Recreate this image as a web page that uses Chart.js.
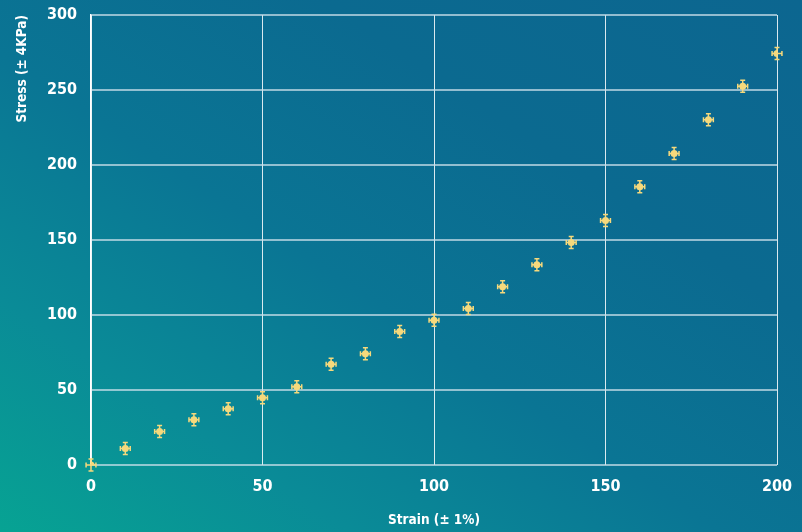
<!DOCTYPE html>
<html>
<head>
<meta charset="utf-8">
<script src="https://cdn.jsdelivr.net/npm/chart.js@4/dist/chart.umd.min.js"></script>
<style>
  html, body { margin: 0; padding: 0; }
  body {
    width: 802px; height: 532px; overflow: hidden;
    background: linear-gradient(to top right, #07a393 0%, #0a8b97 22%, #0a7594 45%, #0b6a90 70%, #0c6690 100%);
  }
  #wrap { position: relative; width: 802px; height: 532px; }
</style>
</head>
<body>
<div id="wrap"><canvas id="chart" width="802" height="532"></canvas></div>
<script>
// Measured strain (%) and stress (KPa)
const strain = [0, 10, 20, 30, 40, 50, 60, 70, 80, 90, 100, 110, 120, 130, 140, 150, 160, 170, 180, 190, 200];
const stress = [0, 11, 22.3, 30.1, 37.5, 44.8, 52.1, 67.2, 74.1, 89, 96.5, 104.3, 118.8, 133.5, 148.3, 163, 185.5, 207.7, 230.1, 252.5, 274.3];
// Measurement uncertainty
const strainErr = 1;
const stressErr = 4;
// Axis ticks
const xTicks = [0, 50, 100, 150, 200];
const yTicks = [0, 50, 100, 150, 200, 250, 300];

const markColor = '#f6d97c';
const condensed = "'DejaVu Sans Condensed', 'Liberation Sans Narrow', Roboto, sans-serif";
const tickFont = { family: condensed, size: 16, weight: 'bold' };
const titleFont = { family: condensed, size: 13.5, weight: 'bold' };

const points = strain.map((x, i) => ({ x: x, y: stress[i] }));

// Draws the x/y uncertainty whiskers behind each marker
const errorBars = {
  id: 'errorBars',
  beforeDatasetsDraw(chart) {
    const { ctx, scales: { x, y } } = chart;
    ctx.save();
    ctx.strokeStyle = markColor;
    ctx.lineWidth = 1.5;
    const cap = 2.5;
    points.forEach(p => {
      const cx = x.getPixelForValue(p.x);
      const cy = y.getPixelForValue(p.y);
      const y1 = y.getPixelForValue(p.y + stressErr);
      const y2 = y.getPixelForValue(p.y - stressErr);
      const x1 = x.getPixelForValue(p.x - strainErr);
      const x2 = x.getPixelForValue(p.x + strainErr);
      ctx.beginPath();
      ctx.moveTo(cx, y1); ctx.lineTo(cx, y2);
      ctx.moveTo(cx - cap, y1); ctx.lineTo(cx + cap, y1);
      ctx.moveTo(cx - cap, y2); ctx.lineTo(cx + cap, y2);
      ctx.moveTo(x1 - 1.5, cy); ctx.lineTo(x2 + 1.5, cy);
      ctx.moveTo(x1 - 1.5, cy - cap); ctx.lineTo(x1 - 1.5, cy + cap);
      ctx.moveTo(x2 + 1.5, cy - cap); ctx.lineTo(x2 + 1.5, cy + cap);
      ctx.stroke();
    });
    ctx.restore();
  }
};

new Chart(document.getElementById('chart'), {
  type: 'scatter',
  data: {
    datasets: [{
      label: 'Stress',
      data: points,
      backgroundColor: markColor,
      borderColor: markColor,
      pointRadius: 3.5,
      pointHoverRadius: 3.5,
      borderWidth: 0
    }]
  },
  plugins: [errorBars],
  options: {
    responsive: false,
    animation: false,
    layout: { padding: { top: 15, right: 25, left: 0, bottom: 0 } },
    plugins: { legend: { display: false }, tooltip: { enabled: false } },
    scales: {
      x: {
        type: 'linear',
        min: 0, max: 200,
        afterBuildTicks(scale) { scale.ticks = xTicks.map(v => ({ value: v })); },
        afterFit(scale) { scale.height = 67; scale.paddingLeft = 0; scale.paddingRight = 0; },
        grid: { color: 'rgba(255,255,255,0.85)', lineWidth: 1, drawTicks: false },
        border: { display: false },
        ticks: { color: '#ffffff', font: tickFont, padding: 12, maxRotation: 0 },
        title: {
          display: true, text: 'Strain (± 1%)', color: '#ffffff', font: titleFont,
          padding: { top: 5, bottom: 3 }
        }
      },
      y: {
        type: 'linear',
        min: 0, max: 300,
        afterBuildTicks(scale) { scale.ticks = yTicks.map(v => ({ value: v })); },
        afterFit(scale) { scale.width = 91; scale.paddingTop = 0; scale.paddingBottom = 0; },
        grid: { color: 'rgba(205,225,235,0.7)', lineWidth: 2, drawTicks: false },
        border: { display: true, color: '#ffffff', width: 1.5 },
        ticks: { color: '#ffffff', font: tickFont, padding: 14 },
        title: {
          display: true, text: 'Stress (± 4KPa)', color: '#ffffff', font: titleFont,
          align: 'end', padding: { top: 14, bottom: 0 }
        }
      }
    }
  }
});
</script>
</body>
</html>
